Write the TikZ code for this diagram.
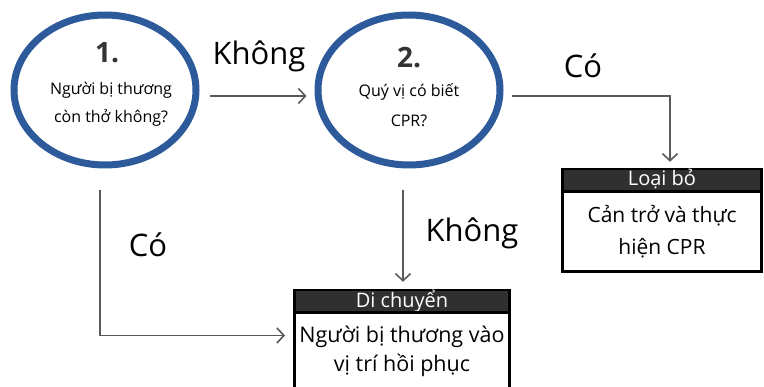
\documentclass[tikz,border=0pt]{standalone}
\usepackage{fontspec}
\setmainfont{Open Sans}
\usetikzlibrary{shapes.geometric,arrows.meta}
\definecolor{ringblue}{HTML}{2C5A9A}
\definecolor{linegray}{HTML}{5A5A5A}
\definecolor{headgray}{HTML}{303030}
\definecolor{numgray}{HTML}{333333}

\begin{document}
\begin{tikzpicture}[x=1pt,y=-1pt,
	ring/.style={ellipse,draw=ringblue,line width=7pt,minimum width=182pt,minimum height=150pt,inner sep=0pt},
	num/.style={anchor=base,text=numgray,font=\fontsize{28}{30}\selectfont\bfseries},
	ask/.style={anchor=base,font=\fontsize{16}{18}\selectfont},
	big/.style={anchor=base,font=\fontsize{31}{33}\selectfont},
	head/.style={draw=black,fill=headgray,line width=2.5pt,text=white,inner sep=0pt,font=\fontsize{20}{22}\selectfont},
	body/.style={draw=black,line width=3pt,inner sep=0pt,align=center},
	flow/.style={draw=linegray,line width=1.6pt,-{Straight Barb[length=7pt,width=15pt,line width=1.6pt]}}]
	\useasboundingbox (0,0) rectangle (764,387);

	% questions
	\node[ring] (c1) at (105,90) {};
	\node[ring] (c2) at (409,90) {};
	\node[num] (n1) at (107,63) {1.};
	\node[ask] (q1a) at (111,95) {Người bị thương};
	\node[ask] (q1b) at (111,123) {còn thở không?};
	\node[num] (n2) at (409,68) {2.};
	\node[ask] (q2a) at (409,97) {Quý vị có biết};
	\node[ask] (q2b) at (409,127) {CPR?};

	% actions
	\node[head,minimum width=215pt,minimum height=23pt] (h1) at (402,301.5) {Di chuyển};
	\node[body,minimum width=215pt,minimum height=77pt,font=\fontsize{21.5}{29}\selectfont] (b1) at (402,351.5) {Người bị thương vào\\vị trí hồi phục};
	\node[head,minimum width=199pt,minimum height=23pt,text height=14pt,text depth=4pt] (h2) at (662,180.5) {Loại bỏ};
	\node[body,minimum width=199pt,minimum height=80pt,font=\fontsize{21}{32}\selectfont] (b2) at (662,232) {Cản trở và thực\\hiện CPR};

	% answers
	\node[big] (l1) at (259,65) {Không};
	\node[big] (l2) at (583,78) {Có};
	\node[big] (l3) at (148,257) {Có};
	\node[big] (l4) at (472,242) {Không};

	\draw[flow] ([shift={(10,6)}]c1.east) -- ([shift={(-8,6)}]c2.west);
	\draw[flow] ([shift={(8,6)}]c2.east) -| ([shift={(8,-6)}]h2.north);
	\draw[flow] ([shift={(-5,22)}]c1.south) |- ([shift={(-8,-16)}]b1.west);
	\draw[flow] ([shift={(-6,22)}]c2.south) -- ([shift={(1,-7)}]h1.north);
\end{tikzpicture}
\end{document}
